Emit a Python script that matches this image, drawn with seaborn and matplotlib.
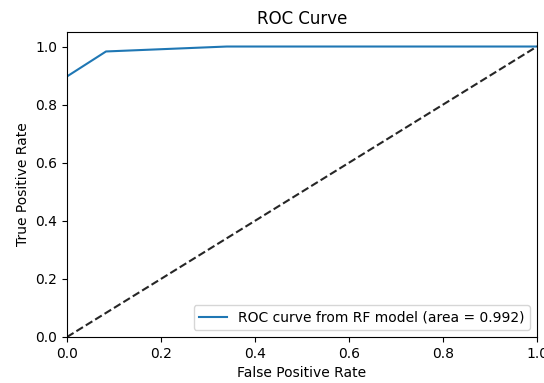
import matplotlib
matplotlib.use("Agg")
import matplotlib.pyplot as plt
import pandas as pd
import seaborn as sns

fpr = [0.0, 0.0, 0.083, 0.34, 1.0]
tpr = [0.0, 0.897, 0.983, 1.0, 1.0]
roc_auc = 0.992

roc_df = pd.DataFrame({"fpr": fpr[1:], "tpr": tpr[1:]})

fig = plt.figure(figsize=(5.44, 3.83), dpi=100)
ax = fig.add_axes([67/544, 1 - 337/383, 470/544, 305/383])

sns.lineplot(x="fpr", y="tpr", data=roc_df, ax=ax, color="#1f77b4",
             label="ROC curve from RF model (area = %0.3f)" % roc_auc)
sns.lineplot(x=[0, 1], y=[0, 1], ax=ax, color="#262626", linestyle="--")

ax.set_xlim([0.0, 1.0])
ax.set_ylim([0.0, 1.05])
ax.set_xlabel("False Positive Rate")
ax.set_ylabel("True Positive Rate")
ax.set_title("ROC Curve")
ax.legend(loc="lower right")

fig.savefig("out.png", dpi=100)
